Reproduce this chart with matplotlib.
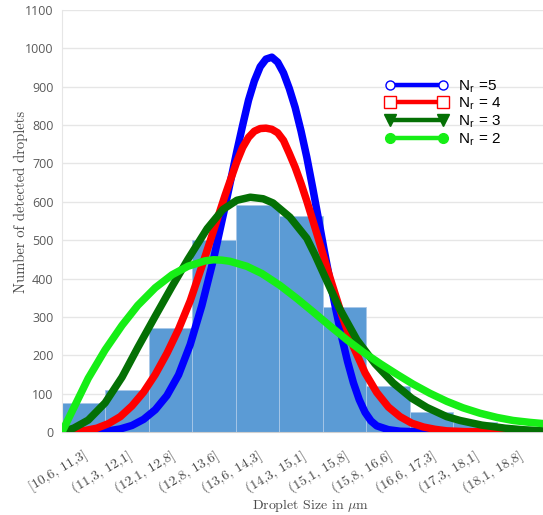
import matplotlib
matplotlib.use("Agg")
import matplotlib.pyplot as plt
from matplotlib.lines import Line2D

# Histogram of detected droplet sizes
bin_labels = ["[10,6, 11,3]", "(11,3, 12,1]", "(12,1, 12,8]", "(12,8, 13,6]",
              "(13,6, 14,3]", "(14,3, 15,1]", "(15,1, 15,8]", "(15,8, 16,6]",
              "(16,6, 17,3]", "(17,3, 18,1]", "(18,1, 18,8]"]
counts = [76, 110, 270, 500, 592, 562, 325, 121, 51, 27, 3]
size_min = 10.6
size_max = 18.8

# Fitted distributions (droplet size in µm, number of droplets)
nr5_size = [10.6, 11.0, 11.2, 11.4, 11.6, 11.8, 12.0, 12.2, 12.4, 12.6,
            12.8, 13.0, 13.2, 13.4, 13.6, 13.7, 13.8, 13.9, 14.0, 14.1,
            14.2, 14.3, 14.4, 14.5, 14.6, 14.7, 14.8, 14.9, 15.0, 15.1,
            15.2, 15.3, 15.4, 15.5, 15.6, 15.7, 15.8, 15.9, 16.0, 16.2,
            16.4, 16.6, 17.0, 18.85]
nr5_count = [0, 0, 1, 3, 8, 17, 33, 58, 95, 149,
             228, 330, 451, 589, 732, 800, 865, 915, 952, 972,
             977, 964, 936, 895, 846, 785, 716, 637, 555, 472,
             393, 318, 247, 183, 128, 84, 51, 29, 16, 6,
             2, 1, 0, 0]

nr4_size = [10.6, 10.8, 11.0, 11.2, 11.4, 11.6, 11.8, 12.0, 12.2, 12.4,
            12.6, 12.8, 13.0, 13.2, 13.4, 13.6, 13.7, 13.8, 13.9, 14.0,
            14.1, 14.2, 14.3, 14.4, 14.5, 14.6, 14.7, 14.8, 14.9, 15.0,
            15.2, 15.4, 15.6, 15.8, 16.0, 16.2, 16.4, 16.6, 16.8, 17.0,
            17.2, 17.5, 18.0, 18.85]
nr4_count = [0, 1, 4, 10, 22, 40, 68, 104, 150, 205,
             268, 342, 432, 525, 618, 705, 742, 768, 784, 791,
             792, 789, 780, 760, 726, 690, 648, 602, 553, 503,
             401, 305, 222, 154, 103, 65, 40, 23, 13, 7,
             3, 1, 0, 0]

nr3_size = [10.6, 10.8, 11.05, 11.34, 11.63, 11.9, 12.2, 12.49, 12.76, 13.09,
            13.36, 13.6, 13.83, 14.05, 14.22, 14.51, 14.8, 14.94, 15.11, 15.35,
            15.66, 15.97, 16.28, 16.6, 16.86, 17.2, 17.43, 17.8, 18.2, 18.5,
            18.85]
nr3_count = [0, 10, 31, 76, 143, 220, 302, 380, 450, 530,
             580, 604, 612, 608, 597, 560, 505, 462, 405, 325,
             240, 178, 128, 88, 64, 40, 30, 18, 10, 6,
             3]

nr2_size = [10.6, 10.77, 11.05, 11.34, 11.63, 11.9, 12.2, 12.49, 12.76, 13.05,
            13.2, 13.34, 13.48, 13.77, 14.03, 14.34, 14.63, 14.91, 15.2, 15.49,
            15.76, 16.06, 16.35, 16.62, 16.91, 17.2, 17.48, 17.77, 18.06, 18.34,
            18.63, 18.85]
nr2_count = [0, 53, 140, 214, 278, 330, 376, 410, 432, 446,
             449, 448, 445, 432, 413, 382, 348, 313, 276, 240,
             209, 178, 150, 125, 101, 80, 63, 49, 38, 30,
             25, 22]

series_labels = ["N$_\\mathregular{r}$ =5", "N$_\\mathregular{r}$ = 4",
                 "N$_\\mathregular{r}$ = 3", "N$_\\mathregular{r}$ = 2"]

plt.rcParams["mathtext.fontset"] = "cm"

fig = plt.figure(figsize=(5.43, 5.15), dpi=100)
ax = fig.add_axes([62 / 543, 83 / 515, 481 / 543, 422 / 515])

n_bins = len(counts)
bin_w = (size_max - size_min) / n_bins
centers = [size_min + bin_w * (i + 0.5) for i in range(n_bins)]

ax.bar(centers, counts, width=bin_w, color="#5b9bd5", edgecolor="#a9c8e8",
       linewidth=0.6, zorder=2)

curve_style = dict(linewidth=5.4, solid_capstyle="round", solid_joinstyle="round", zorder=3)
ax.plot(nr5_size, nr5_count, color="#0000ff", **curve_style)
ax.plot(nr4_size, nr4_count, color="#ff0000", **curve_style)
ax.plot(nr3_size, nr3_count, color="#047004", **curve_style)
ax.plot(nr2_size, nr2_count, color="#16ee16", **curve_style)

ax.set_xlim(size_min, size_min + 481 / 58.29)
ax.set_ylim(0, 1100)
ax.set_yticks(range(0, 1101, 100))
ax.grid(axis="y", color="#e6e6e6", linewidth=1.0, zorder=0)
ax.set_axisbelow(True)
for side in ("top", "right"):
    ax.spines[side].set_visible(False)
ax.spines["left"].set_color("#e6e6e6")
ax.spines["bottom"].set_color("#d0d0d0")
ax.tick_params(axis="both", length=0)
ax.tick_params(axis="y", pad=6, labelsize=9, labelcolor="#5a5a5a")
for lab in ax.get_yticklabels():
    lab.set_fontfamily("Open Sans")

ax.set_xticks(centers)
ax.set_xticklabels(bin_labels, rotation=31, ha="right", rotation_mode="anchor",
                   fontfamily="cmr10", fontsize=10, color="#4a4a4a")
ax.tick_params(axis="x", pad=12)

ax.set_xlabel("Droplet Size in $\\mathrm{\\mu}$m", fontfamily="cmr10", fontsize=10,
              color="#4a4a4a")
ax.xaxis.set_label_coords(0.516, -0.155)
ax.set_ylabel("Number of detected droplets", fontfamily="cmr10", fontsize=10.5,
              color="#4a4a4a")
ax.yaxis.set_label_coords(-0.071, 0.545)

handles = [
    Line2D([], [], color="#0000ff", lw=3.2, marker="o", ms=6.5, mfc="white", mec="#0000ff", mew=1.0),
    Line2D([], [], color="#ff0000", lw=3.2, marker="s", ms=8.5, mfc="white", mec="#ff0000", mew=1.0),
    Line2D([], [], color="#047004", lw=3.2, marker="v", ms=9, mfc="#047004", mec="#047004"),
    Line2D([], [], color="#16ee16", lw=3.2, marker="o", ms=7, mfc="#16ee16", mec="#16ee16"),
]
leg = fig.legend(handles, series_labels, loc="upper left",
                 bbox_to_anchor=(385 / 543, 1 - 78 / 515), bbox_transform=fig.transFigure,
                 frameon=False, numpoints=2, handlelength=4.1, handletextpad=0.65,
                 labelspacing=0.07, borderpad=0, borderaxespad=0,
                 prop={"family": "Liberation Sans", "size": 11})

fig.savefig("out.png", dpi=100)
